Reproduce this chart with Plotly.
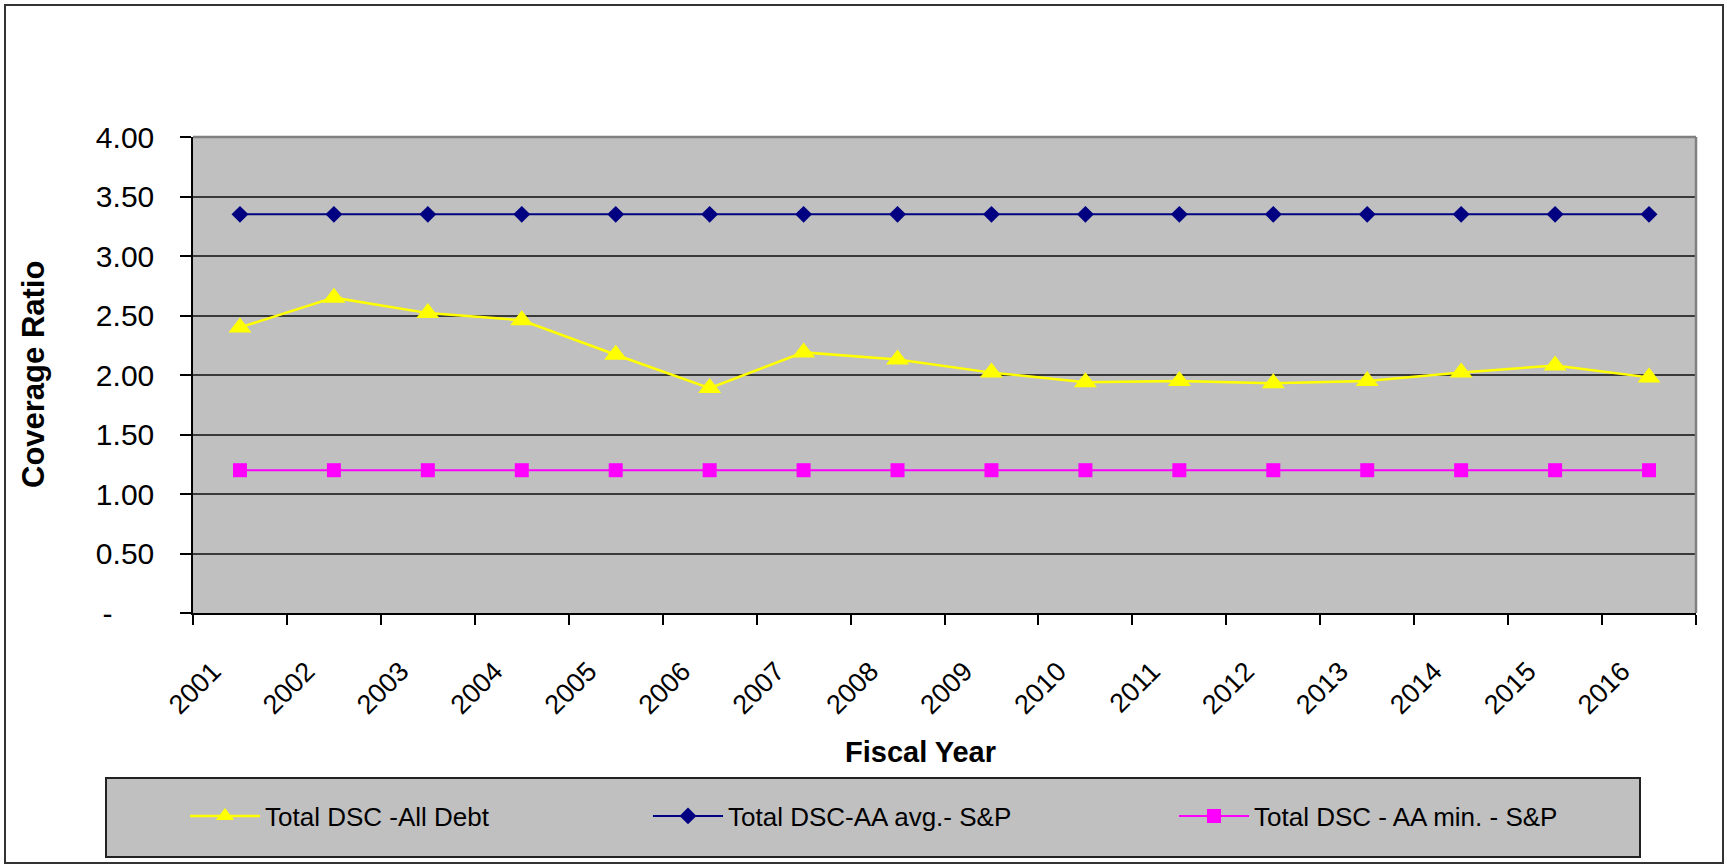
import plotly.graph_objects as go

# ---------------- data ----------------
years = ["2001", "2002", "2003", "2004", "2005", "2006", "2007", "2008",
         "2009", "2010", "2011", "2012", "2013", "2014", "2015", "2016"]
dsc_all_debt = [2.40, 2.65, 2.52, 2.46, 2.17, 1.89, 2.19, 2.13,
                2.02, 1.94, 1.95, 1.93, 1.95, 2.02, 2.08, 1.98]
dsc_aa_avg = [3.35, 3.35, 3.35, 3.35, 3.35, 3.35, 3.35, 3.35,
              3.35, 3.35, 3.35, 3.35, 3.35, 3.35, 3.35, 3.35]
dsc_aa_min = [1.20, 1.20, 1.20, 1.20, 1.20, 1.20, 1.20, 1.20,
              1.20, 1.20, 1.20, 1.20, 1.20, 1.20, 1.20, 1.20]
series_names = ["Total DSC -All Debt", "Total DSC-AA avg.- S&P",
                "Total DSC - AA min. - S&P"]
y_tick_vals = [0, 0.5, 1.0, 1.5, 2.0, 2.5, 3.0, 3.5, 4.0]
y_tick_text = ["-\u00a0\u00a0\u00a0\u00a0\u00a0", "0.50", "1.00", "1.50", "2.00",
               "2.50", "3.00", "3.50", "4.00"]

# ---------------- layout geometry ----------------
W, H = 1727, 866
ML, MR, MT, MB = 193, 31, 137, 253
PW = W - ML - MR
PH = H - MT - MB


def px_x(p):
    return (p - ML) / PW


def px_y(p):
    return (H - MB - p) / PH


FONT = "Liberation Sans, Arial, sans-serif"

fig = go.Figure()

fig.add_trace(go.Scatter(
    x=years, y=dsc_all_debt, name=series_names[0], mode="lines+markers",
    line=dict(color="#FFFF00", width=2.5),
    marker=dict(symbol="triangle-up", size=20, color="#FFFF00"),
    legendwidth=378,
))
fig.add_trace(go.Scatter(
    x=years, y=dsc_aa_avg, name=series_names[1], mode="lines+markers",
    line=dict(color="#000080", width=2),
    marker=dict(symbol="diamond", size=13, color="#000080"),
    legendwidth=441,
))
fig.add_trace(go.Scatter(
    x=years, y=dsc_aa_min, name=series_names[2], mode="lines+markers",
    line=dict(color="#FF00FF", width=2),
    marker=dict(symbol="square", size=14, color="#FF00FF"),
))

shapes = [
    # outer chart border
    dict(type="rect", xref="paper", yref="paper",
         x0=px_x(5), x1=px_x(1723), y0=px_y(863), y1=px_y(5),
         line=dict(color="#333333", width=2), layer="below"),
    # legend box
    dict(type="rect", xref="paper", yref="paper",
         x0=px_x(106), x1=px_x(1640), y0=px_y(857), y1=px_y(778),
         fillcolor="#C0C0C0", line=dict(color="#222222", width=2), layer="below"),
    # plot area frame (top & right)
    dict(type="line", xref="paper", yref="paper", x0=0, x1=1, y0=1, y1=1,
         line=dict(color="#808080", width=2.5), layer="above"),
    dict(type="line", xref="paper", yref="paper", x0=1, x1=1, y0=0, y1=1,
         line=dict(color="#808080", width=2.5), layer="above"),
]

annotations = [
    dict(text="<b>Coverage Ratio</b>", xref="paper", yref="paper",
         x=px_x(33), y=0.5, textangle=-90, showarrow=False,
         xanchor="center", yanchor="middle",
         font=dict(family=FONT, size=31, color="black")),
    dict(text="<b>Fiscal Year</b>", xref="paper", yref="paper",
         x=px_x(920), y=px_y(752), showarrow=False,
         xanchor="center", yanchor="middle",
         font=dict(family=FONT, size=29, color="black")),
]

fig.update_layout(
    width=W, height=H, autosize=False,
    margin=dict(l=ML, r=MR, t=MT, b=MB, pad=0),
    paper_bgcolor="white", plot_bgcolor="#C0C0C0",
    font=dict(family=FONT, color="black"),
    shapes=shapes, annotations=annotations,
    hovermode=False,
    showlegend=True,
    legend=dict(
        orientation="h", x=px_x(185), xanchor="left",
        y=px_y(816), yanchor="middle",
        itemwidth=70, font=dict(family=FONT, size=26, color="black"),
        bgcolor="rgba(0,0,0,0)", borderwidth=0,
        itemclick=False, itemdoubleclick=False,
    ),
    xaxis=dict(
        type="category", categoryorder="array", categoryarray=years,
        range=[-0.5, 15.5], tickson="boundaries",
        ticks="outside", ticklen=10, tickwidth=1.5, tickcolor="black",
        showline=True, linecolor="black", linewidth=1.5,
        showgrid=False, zeroline=False,
        tickangle=-45, tickfont=dict(family=FONT, size=27, color="black"),
        ticklabelshift=-27, ticklabelstandoff=30,
    ),
    yaxis=dict(
        range=[0, 4], tickmode="array", tickvals=y_tick_vals, ticktext=y_tick_text,
        ticks="outside", ticklen=11, tickwidth=1.5, tickcolor="black",
        showline=True, linecolor="black", linewidth=1.5,
        showgrid=True, gridcolor="#3a3a3a", gridwidth=1.5, zeroline=False,
        tickfont=dict(family=FONT, size=30, color="black"),
        ticklabelstandoff=20,
    ),
)

fig.write_html(
    "out.html",
    config={"displayModeBar": False},
    post_script="document.body.style.margin='0px';document.body.style.padding='0px';document.body.style.overflow='hidden';",
)
